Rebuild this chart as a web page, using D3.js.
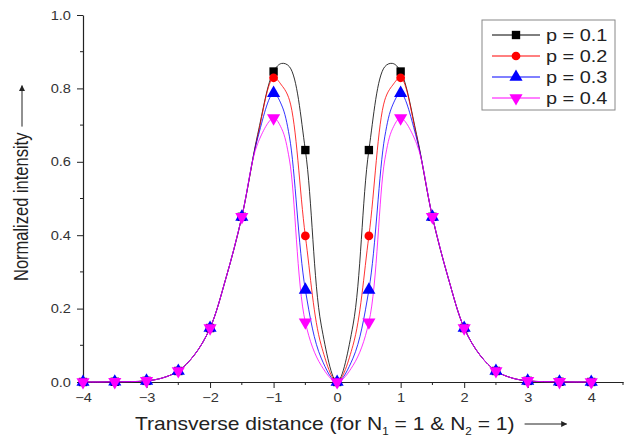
<!DOCTYPE html>
<html>
<head>
<meta charset="utf-8">
<script src="https://cdn.jsdelivr.net/npm/d3@7"></script>
<style>
  body { margin: 0; background: #fff; }
  svg { display: block; font-family: "Liberation Sans", Arial, sans-serif; }
</style>
</head>
<body>
<script>
// values (curve is symmetric about 0)
var xs = [-4, -3.75, -3.5, -3.25, -3, -2.75, -2.5, -2.25, -2, -1.75, -1.5, -1.25, -1, -0.875, -0.75, -0.5, -0.25,
  0, 0.25, 0.5, 0.75, 0.875, 1, 1.25, 1.5, 1.75, 2, 2.25, 2.5, 2.75, 3, 3.25, 3.5, 3.75, 4];

var p1 = [0, 0, 0.0005, 0.001, 0.003, 0.011, 0.03, 0.073, 0.147, 0.283, 0.45, 0.675, 0.846, 0.868, 0.859, 0.632, 0.155,
  0, 0.155, 0.632, 0.859, 0.868, 0.846, 0.675, 0.45, 0.283, 0.147, 0.073, 0.03, 0.011, 0.003, 0.001, 0.0005, 0, 0];
var p2 = [0, 0, 0.0005, 0.001, 0.003, 0.011, 0.03, 0.073, 0.147, 0.283, 0.45, 0.67, 0.829, 0.809, 0.768, 0.398, 0.10,
  0, 0.10, 0.398, 0.768, 0.809, 0.829, 0.67, 0.45, 0.283, 0.147, 0.073, 0.03, 0.011, 0.003, 0.001, 0.0005, 0, 0];
var p3 = [0, 0, 0.0005, 0.001, 0.003, 0.011, 0.03, 0.073, 0.147, 0.283, 0.45, 0.665, 0.787, 0.755, 0.668, 0.251, 0.065,
  0, 0.065, 0.251, 0.668, 0.755, 0.787, 0.665, 0.45, 0.283, 0.147, 0.073, 0.03, 0.011, 0.003, 0.001, 0.0005, 0, 0];
var p4 = [0, 0, 0.0005, 0.001, 0.003, 0.011, 0.03, 0.073, 0.147, 0.283, 0.45, 0.65, 0.719, 0.691, 0.605, 0.163, 0.045,
  0, 0.045, 0.163, 0.605, 0.691, 0.719, 0.65, 0.45, 0.283, 0.147, 0.073, 0.03, 0.011, 0.003, 0.001, 0.0005, 0, 0];

var labels = ["p = 0.1", "p = 0.2", "p = 0.3", "p = 0.4"];
var colors = ["#000000", "#ff0000", "#0000ff", "#ff00ff"];
var symbols = [d3.symbolSquare, d3.symbolCircle, d3.symbolTriangle, d3.symbolTriangle];
var xTicks = [-4, -3, -2, -1, 0, 1, 2, 3, 4];
var yTicks = [0, 0.2, 0.4, 0.6, 0.8, 1.0];

var series = [p1, p2, p3, p4].map(function(vals, i) {
  return {
    name: labels[i], color: colors[i], symbol: symbols[i], flip: i == 3,
    pts: xs.map(function(x, j) { return { x: x, y: vals[j] }; })
  };
});

var W = 630, H = 439;
var SX = 1.17; // the picture's text is a bit wider than plain Arial
var svg = d3.select("body").append("svg").attr("width", W).attr("height", H);

var x = d3.scaleLinear().domain([-4, 4.5]).range([83, 623]);
var y = d3.scaleLinear().domain([0, 1]).range([382, 15]);

// axes
var xAxis = d3.axisBottom(x).tickValues(xTicks).tickFormat(d3.format("d")).tickSize(6).tickSizeOuter(0);
var gx = svg.append("g").attr("transform", "translate(0," + y(0) + ")").call(xAxis);
gx.append("g").selectAll("line")
  .data(d3.range(-3.5, 4.6, 1))
  .enter().append("line")
  .attr("x1", function(d) { return x(d); }).attr("x2", function(d) { return x(d); })
  .attr("y1", 0).attr("y2", 3).attr("stroke", "#222");

var yAxis = d3.axisLeft(y).tickValues(yTicks).tickFormat(d3.format(".1f")).tickSize(6).tickSizeOuter(0);
var gy = svg.append("g").attr("transform", "translate(" + x(-4) + ",0)").call(yAxis);
gy.append("g").selectAll("line")
  .data([0.1, 0.3, 0.5, 0.7, 0.9])
  .enter().append("line")
  .attr("y1", function(d) { return y(d); }).attr("y2", function(d) { return y(d); })
  .attr("x1", 0).attr("x2", -3).attr("stroke", "#222");

[gx, gy].forEach(function(g) {
  g.select(".domain").attr("stroke", "#222").attr("stroke-width", 1.2);
  g.selectAll(".tick line").attr("stroke", "#222");
  g.selectAll(".tick text").attr("font-size", 12.5).attr("fill", "#333")
    .attr("font-family", "Liberation Sans, Arial, sans-serif")
    .attr("transform", "scale(" + SX + ",1)");
});
gx.selectAll(".tick text").attr("y", 11).attr("dy", "0.72em");
gy.selectAll(".tick text").attr("x", -12 / SX);

// curves
var line = d3.line()
  .x(function(d) { return x(d.x); })
  .y(function(d) { return y(d.y); })
  .curve(d3.curveCatmullRom.alpha(0.5));

svg.append("g").selectAll("path")
  .data(series)
  .enter().append("path")
  .attr("d", function(d) { return line(d.pts); })
  .attr("fill", "none")
  .attr("stroke", function(d) { return d.color; })
  .attr("stroke-width", 1)
  .attr("stroke-opacity", 0.8);

// markers every 0.5
function markerPath(s) {
  var size = s.symbol === d3.symbolCircle ? 60 : (s.symbol === d3.symbolSquare ? 70 : 75);
  return d3.symbol().type(s.symbol).size(size)();
}

series.forEach(function(s) {
  svg.append("g").selectAll("path")
    .data(s.pts.filter(function(d) { return Math.abs(d.x * 2 - Math.round(d.x * 2)) < 1e-9; }))
    .enter().append("path")
    .attr("d", markerPath(s))
    .attr("transform", function(d) {
      return "translate(" + x(d.x) + "," + y(d.y) + ")" + (s.flip ? " rotate(180)" : "");
    })
    .attr("fill", s.color);
});

// legend
var lg = svg.append("g").attr("transform", "translate(482,20)");
lg.append("rect").attr("width", 133).attr("height", 90)
  .attr("fill", "#fff").attr("stroke", "#888").attr("stroke-width", 1);
series.forEach(function(s, i) {
  var yy = 15 + i * 21;
  lg.append("line").attr("x1", 10).attr("x2", 58).attr("y1", yy).attr("y2", yy)
    .attr("stroke", s.color).attr("stroke-width", 1);
  lg.append("path").attr("d", markerPath(s))
    .attr("transform", "translate(34," + yy + ")" + (s.flip ? " rotate(180)" : ""))
    .attr("fill", s.color);
  lg.append("text").attr("transform", "translate(64," + yy + ") scale(" + SX + ",1)")
    .attr("dy", "0.35em")
    .attr("font-size", 17).attr("fill", "#222").text(s.name);
});

// arrow marker
svg.append("defs").append("marker")
  .attr("id", "arr").attr("viewBox", "0 0 10 10").attr("refX", 9).attr("refY", 5)
  .attr("markerWidth", 11).attr("markerHeight", 6).attr("markerUnits", "userSpaceOnUse")
  .attr("orient", "auto")
  .append("path").attr("d", "M0,0L10,5L0,10Z").attr("fill", "#222");

// x title
var xt = svg.append("text").attr("transform", "translate(135,430) scale(" + SX + ",1)")
  .attr("font-size", 18).attr("fill", "#222");
xt.append("tspan").text("Transverse distance (for N");
xt.append("tspan").attr("font-size", 10).attr("dy", 5).text("1");
xt.append("tspan").attr("dy", -5).text(" = 1 & N");
xt.append("tspan").attr("font-size", 10).attr("dy", 5).text("2");
xt.append("tspan").attr("dy", -5).text(" = 1)");
var xtEnd = 135 + xt.node().getComputedTextLength() * SX;
svg.append("line").attr("x1", xtEnd + 10).attr("x2", xtEnd + 52).attr("y1", 424).attr("y2", 424)
  .attr("stroke", "#222").attr("stroke-width", 1).attr("marker-end", "url(#arr)");

// y title
var yt = svg.append("text").attr("transform", "translate(28,281) rotate(-90) scale(1," + SX + ")")
  .attr("font-size", 16.5).attr("fill", "#222").text("Normalized intensity");
var ytEnd = 281 - yt.node().getComputedTextLength();
svg.append("line").attr("x1", 22).attr("x2", 22).attr("y1", ytEnd - 6).attr("y2", ytEnd - 47)
  .attr("stroke", "#222").attr("stroke-width", 1).attr("marker-end", "url(#arr)");
</script>
</body>
</html>
